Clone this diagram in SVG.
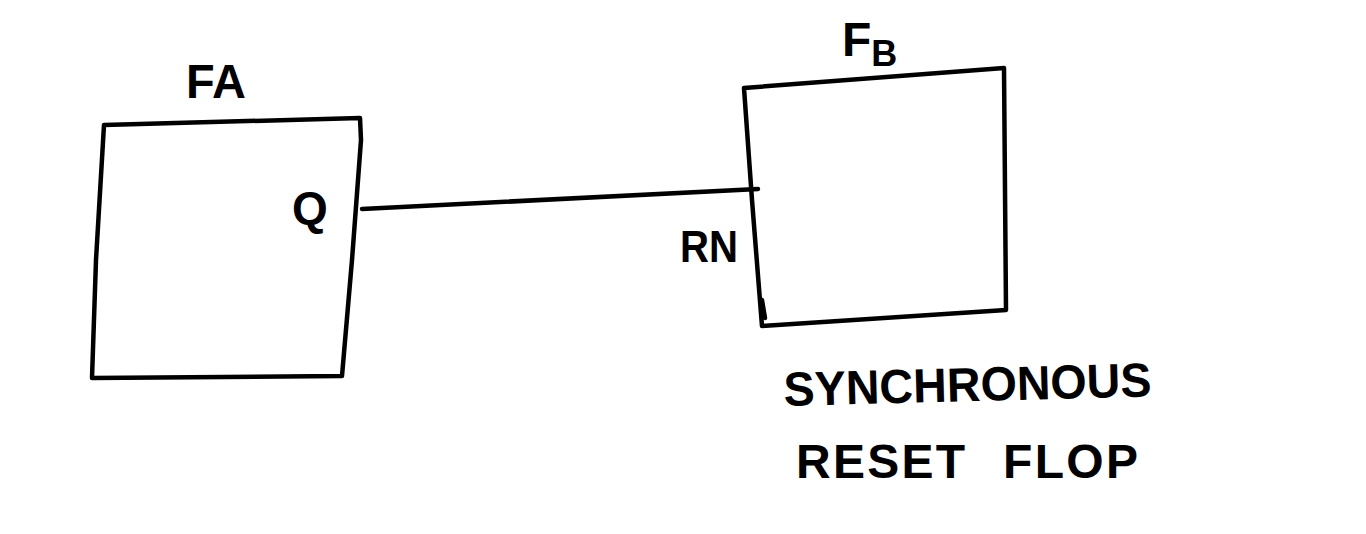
<svg xmlns="http://www.w3.org/2000/svg" width="1366" height="534" viewBox="0 0 1366 534">
<style>
.box{fill:none;stroke:#000;stroke-width:4.5;stroke-linejoin:round;stroke-linecap:round}
.wire{fill:none;stroke:#000;stroke-width:4.5;stroke-linecap:round}
.lbl{font-family:"Liberation Sans",Arial,sans-serif;font-weight:bold;fill:#000}
.cap{font-family:"Liberation Sans",Arial,sans-serif;font-weight:bold;fill:#000;font-size:48px}
</style>
<rect width="1366" height="534" fill="#fff"/>
<g id="FA">
<path class="box" d="M104,125 L360,118 L361,140 L352,260 L342,376 L92,378 L96,260 Z"/>
<text class="lbl" x="186" y="98" font-size="48" textLength="60" lengthAdjust="spacingAndGlyphs">FA</text>
<text class="lbl" x="292" y="224" font-size="46">Q</text>
</g>
<g id="FB">
<path class="box" d="M744,88 L1004,68 L1006,310 L762,326 L752,200 Z"/>
<path class="wire" d="M762,300 L765,318"/>
<text class="lbl" x="842" y="56" font-size="48">F<tspan font-size="36" dy="10">B</tspan></text>
<text class="lbl" x="680" y="262" font-size="44" textLength="58" lengthAdjust="spacingAndGlyphs">RN</text>
</g>
<g id="caption">
<text class="cap" x="784" y="406" textLength="368" lengthAdjust="spacingAndGlyphs" transform="rotate(-1.5 784 406)">SYNCHRONOUS</text>
<text class="cap" x="796" y="478" textLength="342" lengthAdjust="spacing" word-spacing="20">RESET FLOP</text>
</g>
<g id="connectors">
<path class="wire" d="M362,209 L758,189"/>
</g>
</svg>
